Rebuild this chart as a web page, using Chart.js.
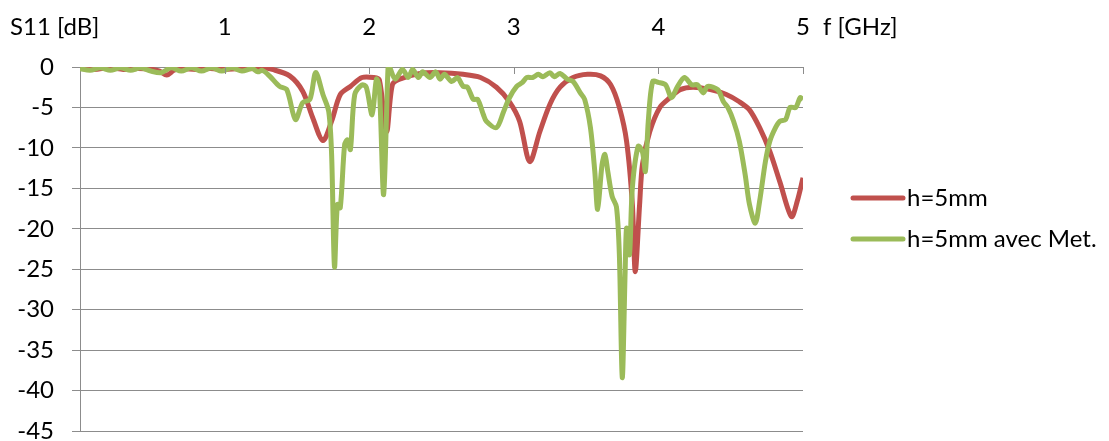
<!DOCTYPE html>
<html>
<head>
<meta charset="utf-8">
<script src="https://cdn.jsdelivr.net/npm/chart.js@4"></script>
<style>
  html, body { margin: 0; padding: 0; background: #fff; }
  #wrap { width: 1109px; height: 441px; }
</style>
</head>
<body>
<div id="wrap"><canvas id="s11-chart" width="1109" height="441"></canvas></div>
<script>
// frequency [GHz] and S11 [dB]
const redFreq = [0, 0.1, 0.2, 0.3, 0.4, 0.5, 0.55, 0.6, 0.65, 0.7, 0.8, 0.9, 1.0, 1.1, 1.2, 1.26,
    1.33, 1.45, 1.54, 1.61, 1.68, 1.74, 1.80, 1.87, 1.95, 2.03, 2.07, 2.12, 2.16, 2.21, 2.35, 2.49,
    2.65, 2.77, 2.88, 2.97, 3.04, 3.11, 3.18, 3.25, 3.32, 3.41, 3.51, 3.60, 3.67, 3.73, 3.78, 3.82,
    3.84, 3.87, 3.89, 3.94, 4.01, 4.08, 4.15, 4.24, 4.36, 4.47, 4.56, 4.63, 4.70, 4.77, 4.84, 4.92,
    4.96, 5.0];
const redS11 = [-0.1, -0.3, -0.1, -0.3, -0.2, -0.3, -0.5, -1.0, -0.4, -0.2, -0.3, -0.2, -0.3, -0.2, -0.2, -0.1,
    -0.3, -1.1, -3.0, -6.3, -9.1, -6.7, -3.4, -2.4, -1.3, -1.3, -1.6, -8.0, -2.2, -1.5, -0.8, -0.7,
    -0.9, -1.3, -2.5, -4.3, -6.7, -11.7, -8.0, -4.6, -2.5, -1.3, -0.9, -1.1, -2.2, -5.0, -9.2, -17.0,
    -25.3, -17.0, -12.0, -8.0, -5.0, -3.8, -2.8, -2.5, -2.8, -3.4, -4.3, -5.3, -7.5, -10.4, -14.2, -18.5,
    -16.6, -13.7];

const greenFreq = [0, 0.07, 0.14, 0.21, 0.28, 0.35, 0.42, 0.49, 0.56, 0.63, 0.7, 0.77, 0.84, 0.91, 0.98,
    1.05, 1.12, 1.19, 1.23, 1.26, 1.31, 1.38, 1.43, 1.49, 1.54, 1.59, 1.63, 1.68, 1.72, 1.74, 1.76,
    1.78, 1.80, 1.83, 1.85, 1.87, 1.90, 1.95, 1.98, 2.02, 2.05, 2.07, 2.10, 2.13, 2.14, 2.18, 2.23,
    2.27, 2.30, 2.34, 2.37, 2.42, 2.46, 2.49, 2.52, 2.57, 2.61, 2.65, 2.68, 2.72, 2.75, 2.79, 2.81,
    2.88, 2.93, 2.97, 3.02, 3.06, 3.09, 3.13, 3.17, 3.20, 3.25, 3.28, 3.32, 3.37, 3.41, 3.46, 3.49,
    3.53, 3.56, 3.58, 3.61, 3.63, 3.65, 3.68, 3.71, 3.73, 3.75, 3.77, 3.78, 3.80, 3.82, 3.86, 3.89,
    3.91, 3.93, 3.96, 4.00, 4.05, 4.09, 4.13, 4.18, 4.23, 4.27, 4.31, 4.34, 4.41, 4.45, 4.48, 4.52,
    4.56, 4.60, 4.63, 4.67, 4.70, 4.74, 4.77, 4.81, 4.84, 4.88, 4.91, 4.95, 4.98, 5.0];
const greenS11 = [-0.2, -0.4, -0.1, -0.4, -0.1, -0.4, -0.1, -0.5, -0.7, -0.1, -0.5, -0.1, -0.5, -0.1, -0.5,
    -0.1, -0.5, -0.2, -0.6, -0.4, -1.1, -2.4, -2.8, -6.5, -4.4, -4.0, -0.7, -3.4, -5.5, -10.8, -24.7,
    -17.0, -17.4, -9.6, -9.0, -10.2, -3.4, -2.2, -2.5, -5.9, -1.5, -2.5, -15.8, -0.2, 0, -1.5, -0.3,
    -1.3, -0.3, -1.3, -0.6, -1.3, -0.6, -1.5, -0.9, -1.8, -1.3, -2.4, -2.5, -4.0, -4.0, -5.9, -6.7,
    -7.5, -5.5, -3.8, -2.4, -1.9, -1.3, -1.3, -0.9, -1.2, -0.7, -1.2, -0.8, -1.5, -1.8, -3.2, -4.0,
    -7.5, -12.9, -17.6, -12.1, -10.8, -12.9, -16.0, -17.3, -23.2, -38.4, -25.3, -19.9, -23.2, -14.9, -9.8, -10.5,
    -12.9, -6.7, -1.8, -1.9, -2.2, -3.8, -2.5, -1.3, -2.2, -2.2, -3.2, -2.4, -2.8, -4.3, -5.0, -6.7,
    -9.2, -13.3, -17.0, -19.3, -16.6, -11.7, -9.2, -7.5, -6.7, -6.5, -5.0, -5.0, -3.8, -4.0];

const seriesNames = ['h=5mm', 'h=5mm avec Met.'];
const seriesColors = ['#C0504D', '#9BBB59'];
const xTicks = [1, 2, 3, 4, 5];
const xTitle = 'f [GHz]';
const yTitle = 'S11 [dB]';

const FONT = 'Lato, "Open Sans", sans-serif';
const FONT_SIZE = 24;
const gridColor = '#8c8c8c';

function toPoints(xs, ys){
    return xs.map((x, i) => ({ x: x, y: ys[i] }));
}

//axis titles, inward x ticks and the legend drawn by hand
const extras = {
    id: 'extras',
    afterDraw(chart){
        const ctx = chart.ctx;
        const xs = chart.scales.x;
        const area = chart.chartArea;
        ctx.save();

        ctx.strokeStyle = gridColor;
        ctx.lineWidth = 1;
        xTicks.forEach(function(t){
            const px = Math.round(xs.getPixelForValue(t)) + 0.5;
            ctx.beginPath();
            ctx.moveTo(px, area.top);
            ctx.lineTo(px, area.top + 7);
            ctx.stroke();
        });

        ctx.fillStyle = '#000';
        ctx.font = FONT_SIZE + 'px ' + FONT;
        ctx.textBaseline = 'middle';
        ctx.textAlign = 'left';
        ctx.fillText(yTitle, 10, 27);
        ctx.fillText(xTitle, 823, 27);

        chart.data.datasets.forEach(function(ds, i){
            const y = 198 + i * 41;
            ctx.strokeStyle = ds.borderColor;
            ctx.lineWidth = 5;
            ctx.lineCap = 'round';
            ctx.beginPath();
            ctx.moveTo(853, y);
            ctx.lineTo(903, y);
            ctx.stroke();
            ctx.fillStyle = '#000';
            ctx.fillText(ds.label, 907, y);
        });
        ctx.restore();
    }
};

const ctx = document.getElementById('s11-chart').getContext('2d');
const s11Chart = new Chart(ctx, {
    type: 'line',
    data: {
        datasets: [{
            label: seriesNames[0],
            data: toPoints(redFreq, redS11),
            borderColor: seriesColors[0],
            backgroundColor: seriesColors[0],
            borderWidth: 5,
            pointRadius: 0,
            tension: 0.3,
            order: 1,
        }, {
            label: seriesNames[1],
            data: toPoints(greenFreq, greenS11),
            borderColor: seriesColors[1],
            backgroundColor: seriesColors[1],
            borderWidth: 5,
            pointRadius: 0,
            tension: 0.3,
            order: 0,
        }]
    },
    options: {
        responsive: false,
        animation: false,
        maintainAspectRatio: false,
        layout: { padding: { left: 0, top: 0, right: 306, bottom: 10 } },
        plugins: {
            legend: { display: false },
            tooltip: { enabled: false }
        },
        scales: {
            x: {
                type: 'linear',
                position: 'top',
                min: 0,
                max: 5,
                afterFit: function(scale){
                    scale.height = 67;
                    scale.paddingLeft = 0;
                    scale.paddingRight = 0;
                },
                grid: { display: false, drawTicks: false },
                border: { display: false },
                ticks: {
                    stepSize: 1,
                    padding: 25,
                    color: '#000',
                    font: { family: FONT, size: FONT_SIZE },
                    maxRotation: 0,
                    callback: function(v){ return v === 0 ? '' : v; }
                }
            },
            y: {
                min: -45,
                max: 0,
                afterFit: function(scale){
                    scale.width = 80;
                    scale.paddingTop = 0;
                    scale.paddingBottom = 0;
                },
                grid: { color: gridColor, lineWidth: 1, tickLength: 8 },
                border: { display: true, color: gridColor, width: 1 },
                ticks: {
                    stepSize: 5,
                    padding: 18,
                    color: '#000',
                    font: { family: FONT, size: FONT_SIZE }
                }
            }
        }
    },
    plugins: [extras]
});
</script>
</body>
</html>
